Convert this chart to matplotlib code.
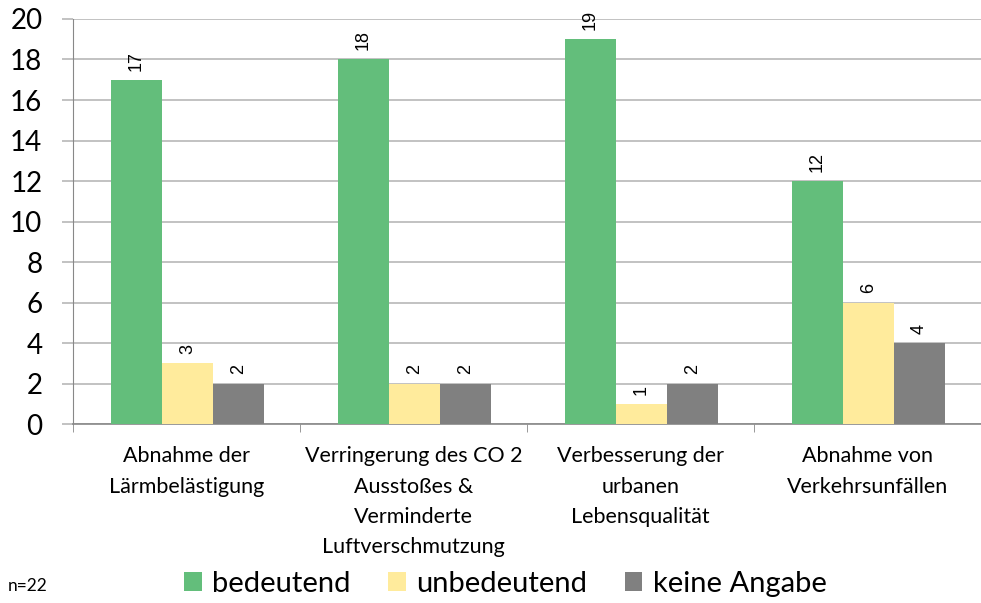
import matplotlib
matplotlib.use("Agg")
import matplotlib.pyplot as plt
import numpy as np

categories = [
    "Abnahme der\nLärmbelästigung",
    "Verringerung des CO 2\nAusstoßes &\nVerminderte\nLuftverschmutzung",
    "Verbesserung der\nurbanen\nLebensqualität",
    "Abnahme von\nVerkehrsunfällen",
]
series_names = ["bedeutend", "unbedeutend", "keine Angabe"]
bedeutend = [17, 18, 19, 12]
unbedeutend = [3, 2, 1, 6]
keine_angabe = [2, 2, 2, 4]
colors = ["#63BE7B", "#FFEB9C", "#808080"]

plt.rcParams["font.family"] = ["Lato", "DejaVu Sans"]

fig = plt.figure(figsize=(9.81, 6.03), dpi=100)
ax = fig.add_axes([0.0744, 0.2968, 0.9256, 0.6717])

x = np.arange(len(categories))
width = 0.225
for i, (vals, name, c) in enumerate(zip([bedeutend, unbedeutend, keine_angabe], series_names, colors)):
    pos = x + (i - 1) * width + 0.004
    ax.bar(pos, vals, width, color=c, label=name, zorder=3)
    for p, v in zip(pos, vals):
        ax.text(p, v + 0.45, str(v), rotation=90, ha="center", va="bottom",
                fontsize=13, family="Liberation Sans", zorder=4)

ax.set_xlim(-0.5, len(categories) - 0.5)
ax.set_ylim(0, 20)
ax.set_yticks(range(0, 21, 2))
ax.tick_params(axis="y", labelsize=20, length=8, color="#b8b8b8", width=1.2, pad=14)
ax.yaxis.grid(True, color="#b8b8b8", linewidth=1.2, zorder=0)

ax.set_xticks(x)
ax.set_xticklabels(categories, fontsize=15.5, linespacing=1.65)
ax.tick_params(axis="x", length=0, pad=16)
ax.set_xticks(np.arange(-0.5, len(categories)), minor=True)
ax.tick_params(axis="x", which="minor", length=6, color="#888888")

for s in ["top", "right"]:
    ax.spines[s].set_visible(False)
ax.spines["left"].set_color("#888888")
ax.spines["bottom"].set_color("#888888")
ax.spines["bottom"].set_linewidth(1.2)

fig.legend(loc="center", bbox_to_anchor=(0.515, 0.032), ncol=3, frameon=False,
           fontsize=21, handlelength=0.6, handleheight=0.6, handletextpad=0.35,
           columnspacing=1.3)
fig.text(0.008, 0.02, "n=22", fontsize=12.5)

fig.savefig("out.png", dpi=100)
